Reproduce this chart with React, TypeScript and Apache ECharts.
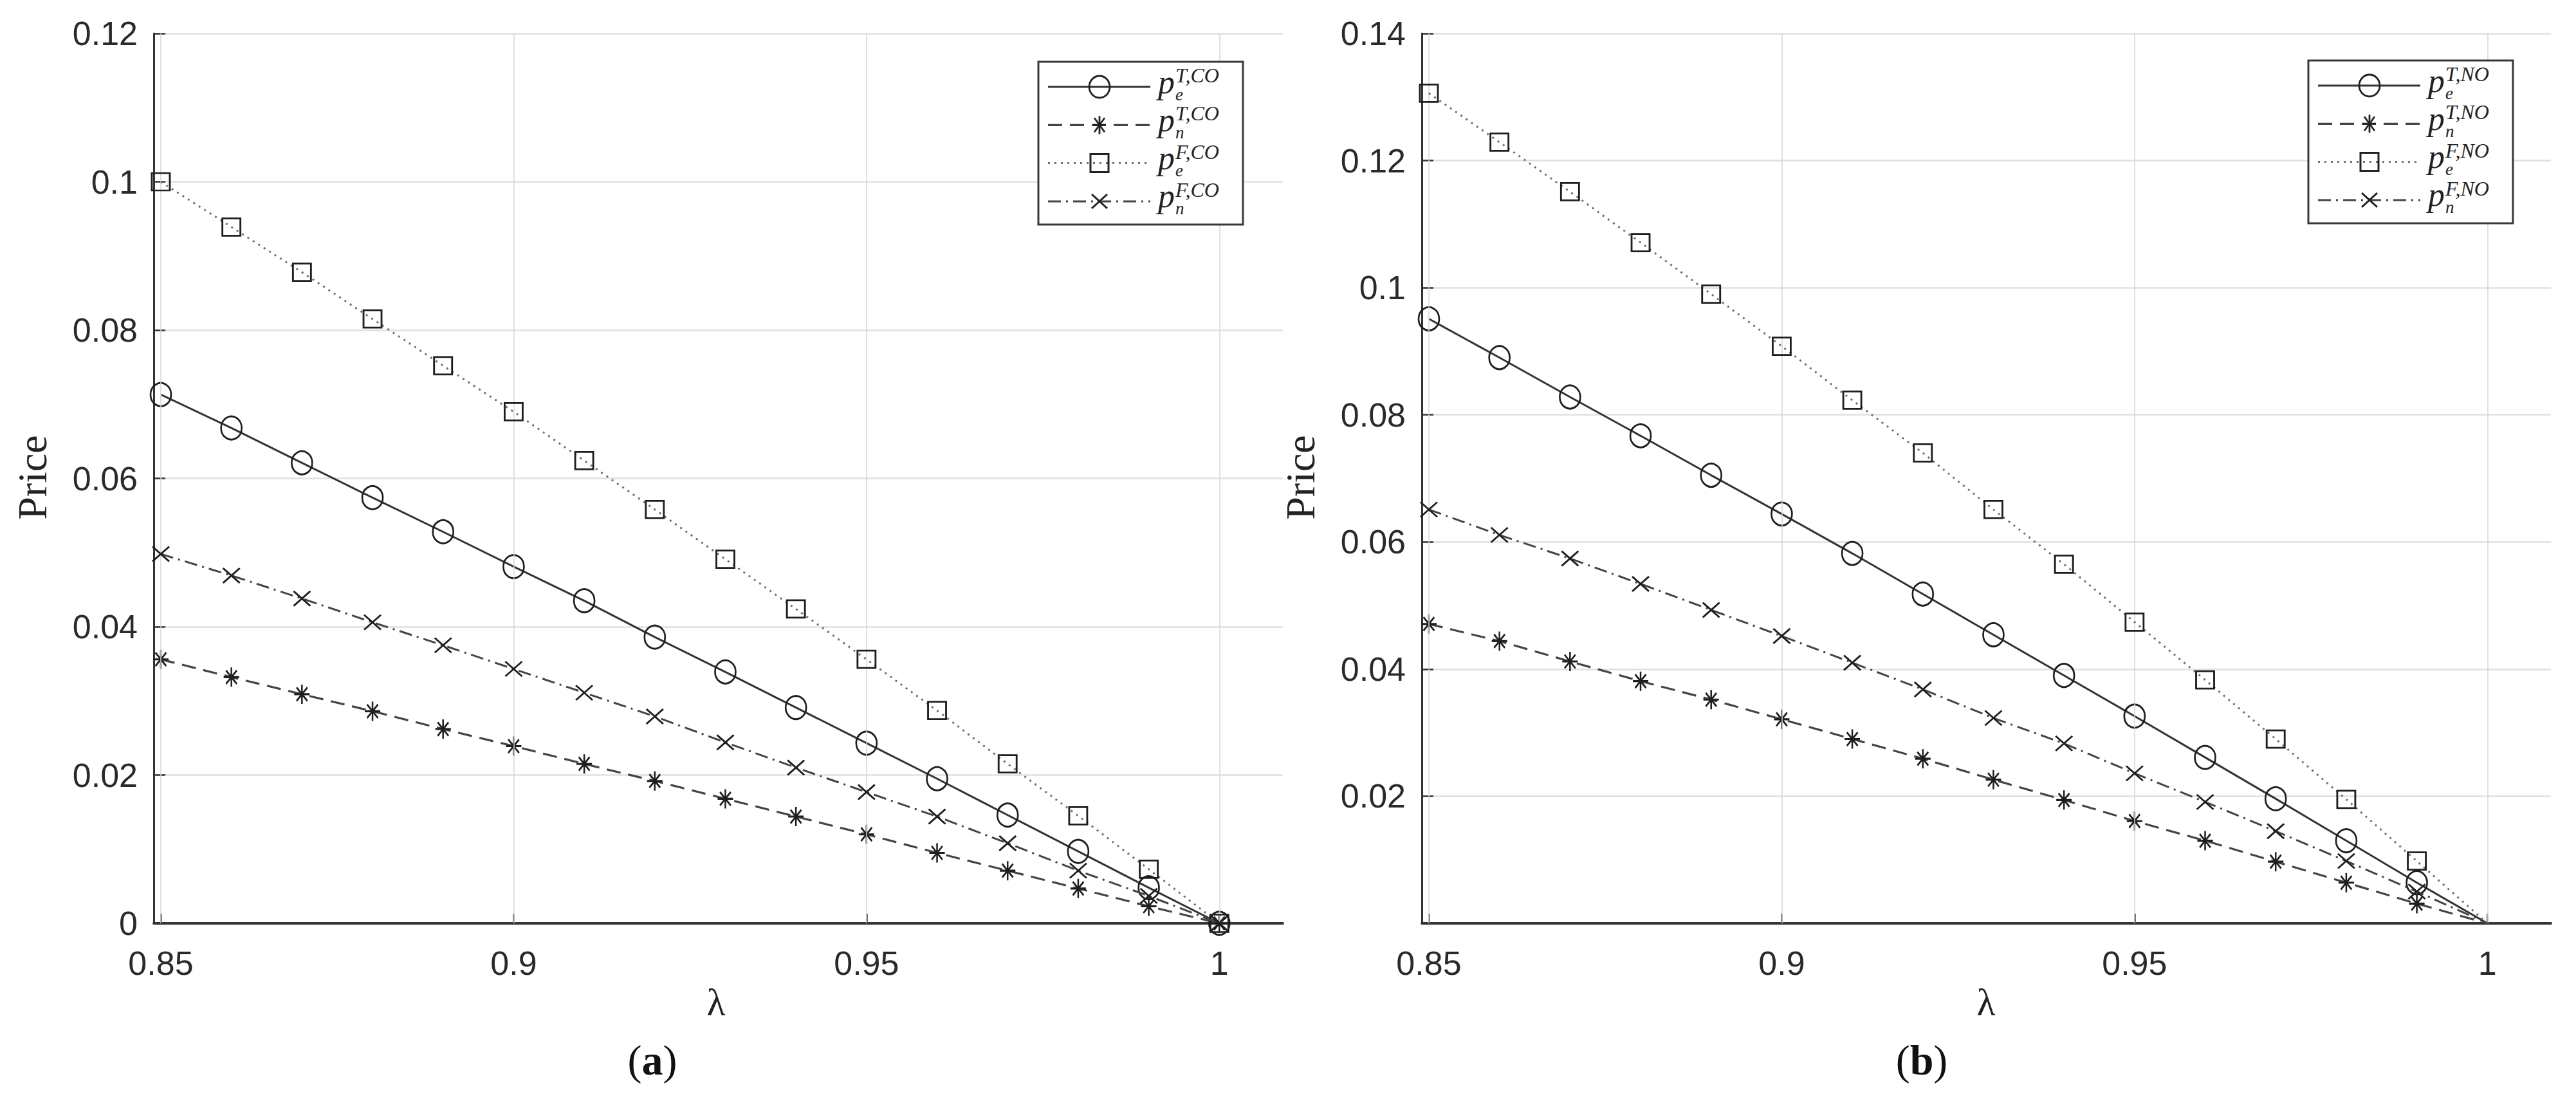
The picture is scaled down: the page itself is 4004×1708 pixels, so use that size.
import React, { useEffect, useRef } from 'react';
import * as echarts from 'echarts';

// ---- data ----
const lambda = [0.85, 0.86, 0.87, 0.88, 0.89, 0.9, 0.91, 0.92, 0.93, 0.94, 0.95, 0.96, 0.97, 0.98, 0.99, 1.0];

// (a) CO
const peT_CO = [0.0713, 0.0668, 0.0621, 0.0574, 0.0528, 0.0481, 0.0435, 0.0386, 0.0339, 0.0291, 0.0243, 0.0195, 0.0146, 0.0097, 0.0048, 0];
const pnT_CO = [0.0356, 0.0332, 0.0309, 0.0286, 0.0262, 0.0239, 0.0215, 0.0192, 0.0168, 0.0144, 0.0120, 0.0095, 0.0071, 0.0047, 0.0023, 0];
const peF_CO = [0.1000, 0.0939, 0.0878, 0.0815, 0.0752, 0.0690, 0.0624, 0.0558, 0.0491, 0.0424, 0.0356, 0.0287, 0.0215, 0.0145, 0.0073, 0];
const pnF_CO = [0.0498, 0.0469, 0.0438, 0.0406, 0.0375, 0.0343, 0.0311, 0.0279, 0.0244, 0.0210, 0.0177, 0.0144, 0.0108, 0.0071, 0.0037, 0];

// (b) NO
const peT_NO = [0.0951, 0.0890, 0.0828, 0.0767, 0.0705, 0.0644, 0.0582, 0.0518, 0.0454, 0.0390, 0.0326, 0.0261, 0.0196, 0.0130, 0.0064, 0];
const pnT_NO = [0.0471, 0.0444, 0.0412, 0.0381, 0.0352, 0.0321, 0.0290, 0.0259, 0.0226, 0.0194, 0.0161, 0.0130, 0.0097, 0.0064, 0.0031, 0];
const peF_NO = [0.1306, 0.1229, 0.1151, 0.1071, 0.0990, 0.0908, 0.0823, 0.0740, 0.0651, 0.0565, 0.0474, 0.0383, 0.0290, 0.0195, 0.0098, 0];
const pnF_NO = [0.0651, 0.0611, 0.0574, 0.0534, 0.0493, 0.0452, 0.0410, 0.0368, 0.0323, 0.0283, 0.0236, 0.0191, 0.0145, 0.0098, 0.0050, 0];

const xTickValues = [0.85, 0.9, 0.95, 1];
const xRange = [0.849, 1.009];
const yMaxA = 0.12;
const yMaxB = 0.14;
const yStep = 0.02;

const supA = ['T,CO', 'T,CO', 'F,CO', 'F,CO'];
const supB = ['T,NO', 'T,NO', 'F,NO', 'F,NO'];
const subs = ['e', 'n', 'e', 'n'];
const captions = ['a', 'b'];

// ---- styling ----
const TICK_FONT = "'Liberation Sans Narrow', 'Arial Narrow', 'Liberation Sans', Arial, sans-serif";
const SERIF = "'Liberation Serif', 'Times New Roman', serif";
const AXIS_COLOR = '#333333';

const ASTERISK = 'path://M10,0 L10,20 M0,10 L20,10 M3,3 L17,17 M3,17 L17,3';
const XMARK = 'path://M0,0 L20,20 M0,20 L20,0';

const seriesStyles = [
  { symbol: 'circle', size: [32, 36], lineType: 'solid' as any, lineColor: '#333333', lineWidth: 3, dash: null as any },
  { symbol: ASTERISK, size: [24, 30], lineType: [22, 12] as any, lineColor: '#444444', lineWidth: 3.2, dash: [22, 12] },
  { symbol: 'rect', size: [28, 27], lineType: [3, 7] as any, lineColor: '#707070', lineWidth: 3, dash: [3, 7] },
  { symbol: XMARK, size: [26, 23], lineType: [20, 8, 3, 8] as any, lineColor: '#444444', lineWidth: 3, dash: [20, 8, 3, 8] },
];

const GRID_TOP = 52;
const GRID_H = 1383;
const GRID_W = 1755;
const GRID_LEFTS = [239, 2210];

function fmtY(v: number) {
  return String(parseFloat(v.toFixed(4)));
}

function buildSeries(k: number, sets: number[][], hideZero: boolean) {
  const out: any[] = [];
  out.push({
    type: 'line',
    xAxisIndex: k,
    yAxisIndex: k,
    data: [],
    silent: true,
    z: 1,
    markLine: {
      silent: true,
      symbol: ['none', 'none'],
      label: { show: false },
      lineStyle: { color: '#d6d6d6', width: 1.5, type: 'solid' },
      data: xTickValues.map((v) => ({ xAxis: v })),
    },
  });
  sets.forEach((vals, i) => {
    const st = seriesStyles[i];
    out.push({
      type: 'line',
      xAxisIndex: k,
      yAxisIndex: k,
      data: lambda.map((x, j) => {
        if (hideZero && vals[j] <= 0) return { value: [x, vals[j]], symbolSize: 0 };
        return [x, vals[j]];
      }),
      symbol: st.symbol,
      symbolSize: st.size,
      symbolKeepAspect: false,
      showSymbol: true,
      showAllSymbol: true,
      clip: false,
      silent: true,
      z: 3 + i,
      lineStyle: { color: st.lineColor, width: st.lineWidth, type: st.lineType },
      itemStyle: { color: 'none', borderColor: '#1e1e1e', borderWidth: 2.8 },
    });
  });
  return out;
}

function legendGraphic(L: number, T: number, sups: string[]) {
  const children: any[] = [];
  children.push({
    type: 'rect',
    shape: { x: L, y: T, width: 318, height: 253 },
    style: { fill: '#ffffff', stroke: '#383838', lineWidth: 3 },
    z: 100,
  });
  const mc = '#222222';
  for (let i = 0; i < 4; i++) {
    const y = T + 39 + i * 59.3;
    const st = seriesStyles[i];
    const cx = L + 95;
    children.push({
      type: 'line',
      shape: { x1: L + 15, y1: y, x2: L + 174, y2: y },
      style: { stroke: st.lineColor, lineWidth: st.lineWidth, lineDash: st.dash || undefined },
      z: 101,
    });
    if (i === 0) {
      children.push({ type: 'ellipse', shape: { cx, cy: y, rx: 16, ry: 17 }, style: { fill: 'none', stroke: mc, lineWidth: 2.8 }, z: 102 });
    } else if (i === 1) {
      const segs = [[0, -14, 0, 14], [-10, 0, 10, 0], [-8, -11, 8, 11], [-8, 11, 8, -11]];
      segs.forEach((s) => children.push({ type: 'line', shape: { x1: cx + s[0], y1: y + s[1], x2: cx + s[2], y2: y + s[3] }, style: { stroke: mc, lineWidth: 2.8 }, z: 102 }));
    } else if (i === 2) {
      children.push({ type: 'rect', shape: { x: cx - 14, y: y - 14, width: 28, height: 28 }, style: { fill: 'none', stroke: mc, lineWidth: 3 }, z: 102 });
    } else {
      const segs = [[-12, -11, 12, 11], [-12, 11, 12, -11]];
      segs.forEach((s) => children.push({ type: 'line', shape: { x1: cx + s[0], y1: y + s[1], x2: cx + s[2], y2: y + s[3] }, style: { stroke: mc, lineWidth: 2.8 }, z: 102 }));
    }
    children.push({
      type: 'text', x: L + 186, y: y - 8, z: 103,
      style: { text: 'p', fontSize: 52, fontFamily: SERIF, fontStyle: 'italic', fill: '#222', align: 'left', verticalAlign: 'middle' },
    });
    children.push({
      type: 'text', x: L + 213, y: y - 18, z: 103,
      style: { text: sups[i], fontSize: 32, fontFamily: SERIF, fontStyle: 'italic', fill: '#222', align: 'left', verticalAlign: 'middle' },
    });
    children.push({
      type: 'text', x: L + 213, y: y + 11.5, z: 103,
      style: { text: subs[i], fontSize: 27, fontFamily: SERIF, fontStyle: 'italic', fill: '#222', align: 'left', verticalAlign: 'middle' },
    });
  }
  return children;
}

export default function App() {
  const ref = useRef<HTMLDivElement>(null);
  useEffect(() => {
    if (!ref.current) return;
    const chart = echarts.init(ref.current, undefined, { renderer: 'svg' });
    const yMaxes = [yMaxA, yMaxB];

    const grids = GRID_LEFTS.map((l) => ({ left: l, top: GRID_TOP, width: GRID_W, height: GRID_H, containLabel: false }));

    const xAxes = [0, 1].map((k) => ({
      type: 'value',
      gridIndex: k,
      min: xRange[0],
      max: xRange[1],
      axisLine: { show: true, onZero: false, lineStyle: { color: '#363636', width: 4 } },
      axisTick: { show: true, inside: true, length: 15, customValues: xTickValues, lineStyle: { color: AXIS_COLOR, width: 2.5 } },
      axisLabel: {
        show: true,
        customValues: xTickValues,
        margin: 36,
        fontSize: 52,
        fontFamily: TICK_FONT,
        color: '#2a2a2a',
        formatter: (v: number) => String(parseFloat(Number(v).toFixed(3))),
      },
      splitLine: { show: false },
    }));

    const yAxes = [0, 1].map((k) => ({
      type: 'value',
      gridIndex: k,
      min: 0,
      max: yMaxes[k],
      interval: yStep,
      axisLine: { show: true, onZero: false, lineStyle: { color: AXIS_COLOR, width: 3 } },
      axisTick: { show: true, inside: true, length: 18, lineStyle: { color: AXIS_COLOR, width: 2.5 } },
      axisLabel: {
        show: true,
        margin: 25,
        fontSize: 52,
        fontFamily: TICK_FONT,
        color: '#2a2a2a',
        formatter: (v: number) => (k === 1 && v === 0 ? '' : fmtY(v)),
      },
      splitLine: { show: true, lineStyle: { color: '#e0e0e0', width: 2.5 } },
    }));

    const series = [
      ...buildSeries(0, [peT_CO, pnT_CO, peF_CO, pnF_CO], false),
      ...buildSeries(1, [peT_NO, pnT_NO, peF_NO, pnF_NO], true),
    ];

    const graphic: any[] = [];
    const priceX = [50, 2021];
    const lambdaX = [1113, 3087];
    const capX = [1014, 2987];
    for (let k = 0; k < 2; k++) {
      graphic.push({
        type: 'text', x: priceX[k], y: 742, rotation: Math.PI / 2,
        style: { text: 'Price', fontSize: 64, fontFamily: SERIF, fill: '#222', align: 'center', verticalAlign: 'middle' },
      });
      graphic.push({
        type: 'text', x: lambdaX[k], y: 1558,
        style: { text: 'λ', fontSize: 60, fontFamily: SERIF, fill: '#222', align: 'center', verticalAlign: 'middle' },
      });
      graphic.push({
        type: 'text', x: capX[k], y: 1647,
        style: {
          text: '({b|' + captions[k] + '})',
          fontSize: 66, fontFamily: SERIF, fill: '#111', align: 'center', verticalAlign: 'middle',
          rich: { b: { fontSize: 66, fontFamily: SERIF, fontWeight: 'bold', fill: '#111' } },
        },
      });
    }
    graphic.push(...legendGraphic(1614, 96, supA));
    graphic.push(...legendGraphic(3588, 94, supB));

    chart.setOption({
      animation: false,
      backgroundColor: '#ffffff',
      grid: grids,
      xAxis: xAxes,
      yAxis: yAxes,
      series,
      graphic,
    } as any);
    return () => chart.dispose();
  }, []);
  return <div ref={ref} style={{ position: 'absolute', left: 0, top: 0, width: 4004, height: 1708, background: '#fff' }} />;
}
